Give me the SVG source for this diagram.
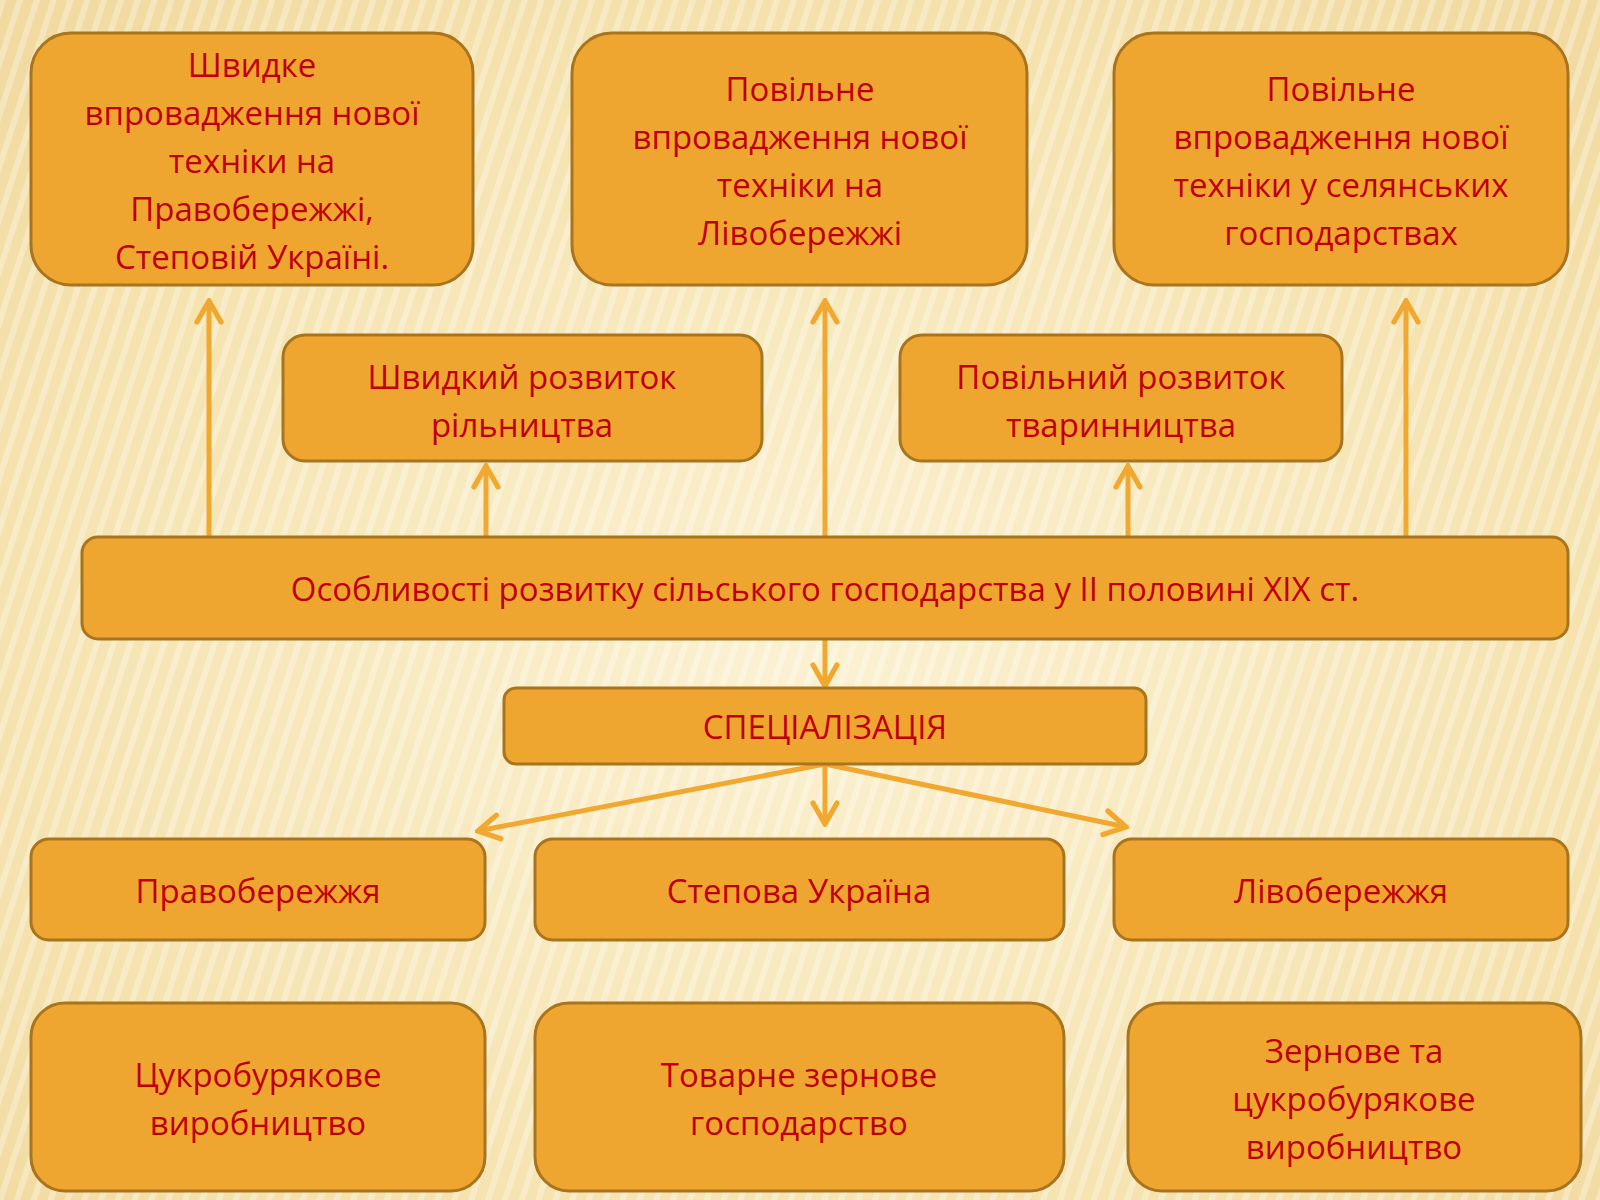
<svg xmlns="http://www.w3.org/2000/svg" width="1600" height="1200" viewBox="0 0 1600 1200">
<defs>
<radialGradient id="bg" cx="0.5" cy="0.55" r="0.8">
<stop offset="0" stop-color="#fbf1d2"/><stop offset="0.6" stop-color="#f5e3b0"/><stop offset="1" stop-color="#f0d69a"/>
</radialGradient>
<pattern id="st" width="16" height="16" patternUnits="userSpaceOnUse" patternTransform="rotate(18)">
<rect width="16" height="16" fill="none"/><rect width="6" height="16" fill="#ffffff" opacity="0.3"/>
</pattern>
<marker id="a" viewBox="0 0 20 20" refX="18" refY="10" markerWidth="30" markerHeight="30" markerUnits="userSpaceOnUse" orient="auto">
<path d="M4,2 L18,10 L4,18" fill="none" stroke="#f0a830" stroke-width="3.5" stroke-linecap="round"/>
</marker>
</defs>
<style>
.b{fill:#efa631;stroke:#a8741e;stroke-width:3}
.t{font-family:"Open Sans","Liberation Sans",sans-serif;font-size:33px;fill:#c00000;text-anchor:middle}
.c{stroke:#f0a830;stroke-width:5;fill:none;marker-end:url(#a)}
</style>
<rect width="1600" height="1200" fill="url(#bg)"/>
<rect width="1600" height="1200" fill="url(#st)"/>
<g id="connectors">
<line class="c" x1="209" y1="537" x2="209" y2="301"/>
<line class="c" x1="486" y1="537" x2="486" y2="466"/>
<line class="c" x1="825" y1="537" x2="825" y2="301"/>
<line class="c" x1="1128" y1="537" x2="1128" y2="466"/>
<line class="c" x1="1406" y1="537" x2="1406" y2="301"/>
<line class="c" x1="825" y1="639" x2="825" y2="686"/>
<line class="c" x1="825" y1="764" x2="478" y2="831"/>
<line class="c" x1="825" y1="764" x2="825" y2="824"/>
<line class="c" x1="825" y1="764" x2="1126" y2="827"/>
</g>
<g id="n1"><rect class="b" x="31" y="33" width="442" height="252" rx="40"/>
<text class="t" x="252" y="77">Швидке</text><text class="t" x="252" y="125">впровадження нової</text><text class="t" x="252" y="173">техніки на</text><text class="t" x="252" y="221">Правобережжі,</text><text class="t" x="252" y="269">Степовій Україні.</text></g>
<g id="n2"><rect class="b" x="572" y="33" width="455" height="252" rx="40"/>
<text class="t" x="800" y="101">Повільне</text><text class="t" x="800" y="149">впровадження нової</text><text class="t" x="800" y="197">техніки на</text><text class="t" x="800" y="245">Лівобережжі</text></g>
<g id="n3"><rect class="b" x="1114" y="33" width="454" height="252" rx="40"/>
<text class="t" x="1341" y="101">Повільне</text><text class="t" x="1341" y="149">впровадження нової</text><text class="t" x="1341" y="197">техніки у селянських</text><text class="t" x="1341" y="245">господарствах</text></g>
<g id="n4"><rect class="b" x="283" y="335" width="479" height="126" rx="22"/>
<text class="t" x="522" y="389">Швидкий розвиток</text><text class="t" x="522" y="437">рільництва</text></g>
<g id="n5"><rect class="b" x="900" y="335" width="442" height="126" rx="22"/>
<text class="t" x="1121" y="389">Повільний розвиток</text><text class="t" x="1121" y="437">тваринництва</text></g>
<g id="n6"><rect class="b" x="82" y="537" width="1486" height="102" rx="16"/>
<text class="t" x="825" y="601">Особливості розвитку сільського господарства у ІІ половині ХІХ ст.</text></g>
<g id="n7"><rect class="b" x="504" y="688" width="642" height="76" rx="12"/>
<text class="t" x="825" y="739">СПЕЦІАЛІЗАЦІЯ</text></g>
<g id="n8"><rect class="b" x="31" y="839" width="454" height="101" rx="18"/><text class="t" x="258" y="903">Правобережжя</text></g>
<g id="n9"><rect class="b" x="535" y="839" width="529" height="101" rx="18"/><text class="t" x="799" y="903">Степова Україна</text></g>
<g id="n10"><rect class="b" x="1114" y="839" width="454" height="101" rx="18"/><text class="t" x="1341" y="903">Лівобережжя</text></g>
<g id="n11"><rect class="b" x="31" y="1003" width="454" height="188" rx="34"/><text class="t" x="258" y="1087">Цукробурякове</text><text class="t" x="258" y="1135">виробництво</text></g>
<g id="n12"><rect class="b" x="535" y="1003" width="529" height="188" rx="34"/><text class="t" x="799" y="1087">Товарне зернове</text><text class="t" x="799" y="1135">господарство</text></g>
<g id="n13"><rect class="b" x="1128" y="1003" width="453" height="188" rx="34"/><text class="t" x="1354" y="1063">Зернове та</text><text class="t" x="1354" y="1111">цукробурякове</text><text class="t" x="1354" y="1159">виробництво</text></g>
</svg>
